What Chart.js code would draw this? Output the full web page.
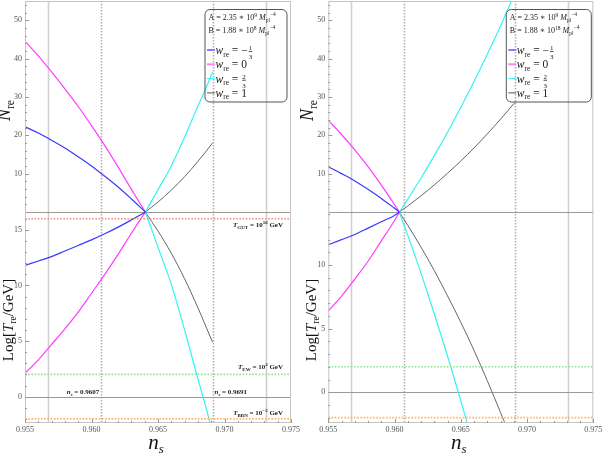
<!DOCTYPE html>
<html><head><meta charset="utf-8">
<script src="https://cdn.jsdelivr.net/npm/chart.js@4.4.0/dist/chart.umd.min.js"></script>
<style>
html,body{margin:0;padding:0;background:#fff;}
#wrap{position:relative;width:602px;height:453px;overflow:hidden;}
canvas{position:absolute;top:0;}
</style></head><body>
<div id="wrap">
<canvas id="cL" width="306" height="453" style="left:0"></canvas>
<canvas id="cR" width="302" height="453" style="left:300px"></canvas>
</div>
<script>
// ---------- DATA ----------
const xTickValues = [0.955, 0.960, 0.965, 0.970, 0.975];
const nsSolidLines = [0.9567, 0.9731];
const nsDottedLines = [0.9607, 0.9691];
const tempRefLines = [16, 2, -2];           // T_GUT, T_EW, T_BBN (log10 GeV)
const seriesLabels = ['w = -1/3', 'w = 0', 'w = 2/3', 'w = 1'];

// Left panel  (A = 2.35e9, B = 1.88e8)
const nsWarmL   = [0.955, 0.956, 0.957, 0.958, 0.959, 0.960, 0.961, 0.962, 0.963, 0.96405];
const nBlueL    = [22.2, 20.6, 18.7, 16.7, 14.4, 12.0, 9.3, 6.5, 3.4, 0];
const nMagL     = [44.5, 40.7, 36.5, 32.1, 27.5, 22.5, 17.3, 11.7, 5.9, 0];
const tBlueL    = [11.8, 12.2, 12.6, 13.1, 13.6, 14.1, 14.65, 15.25, 15.9, 16.6];
const tMagL     = [2.1, 3.3, 4.7, 6.1, 7.6, 9.3, 11.0, 12.8, 14.7, 16.6];
const nsStiffL  = [0.96405, 0.965, 0.966, 0.967, 0.968, 0.9685, 0.9691];
const nCyanL    = [0, 5.8, 12.0, 19.5, 27.6, 31.5, 36.4];
const tCyanL    = [16.6, 13.45, 10.1, 6.0, 1.6, -0.5, -3.2];
const nGrayL    = [0, 2.6, 5.7, 9.2, 13.2, 15.3, 18.0];
const tGrayL    = [16.6, 14.9, 12.9, 10.6, 8.0, 6.6, 4.9];

// Right panel (A = 2.35e9, B = 1.88e18)
const nsWarmR   = [0.955, 0.956, 0.957, 0.958, 0.959, 0.960, 0.96036];
const nBlueR    = [11.8, 10.0, 8.1, 5.9, 3.5, 1.0, 0];
const nMagR     = [23.9, 20.2, 16.2, 11.8, 7.0, 1.9, 0];
const tBlueR    = [11.6, 12.0, 12.4, 12.9, 13.4, 13.9, 14.15];
const tMagR     = [6.4, 7.55, 8.9, 10.3, 11.9, 13.5, 14.15];
const nsStiffR  = [0.96036, 0.961, 0.962, 0.963, 0.964, 0.965, 0.966, 0.967, 0.968, 0.969, 0.9691];
const nCyanR    = [0, 3.35, 8.85, 14.7, 20.8, 27.3, 34.0, 41.1, 48.5, 56.3, 57.0];
const tCyanR    = [14.15, 12.33, 9.34, 6.17, 2.85, -0.67, -4.31, -8.2, -12.2, -16.4, -16.8];
const nGrayR    = [0, 1.58, 4.22, 7.05, 10.1, 13.3, 16.7, 20.35, 24.2, 28.2, 28.6];
const tGrayR    = [14.15, 13.12, 11.4, 9.56, 7.57, 5.5, 3.28, 0.9, -1.6, -4.2, -4.5];

// ---------- STYLE ----------
const FONT = '"Liberation Serif","DejaVu Serif",serif';
const COL = {blue:'#3a3aff', mag:'#ff3cff', cyan:'#33f2f2', gray:'#666666'};
const REFCOL = ['#f08c8c', '#8de88d', '#ffb35c'];

function fontOf(p){ return (p.i?'italic ':'') + (p.b?'bold ':'') + p.s + 'px ' + FONT; }
function drawRich(ctx, parts, x, y, align){
  ctx.textAlign='left'; ctx.textBaseline='alphabetic';
  const widths = parts.map(p=>{
    ctx.font = fontOf(p);
    if (p.frac) return Math.max(ctx.measureText(p.frac[0]).width, ctx.measureText(p.frac[1]).width)+2;
    return ctx.measureText(p.t).width;
  });
  const w = widths.reduce((a,b)=>a+b,0);
  let cx = align==='right' ? x-w : align==='center' ? x-w/2 : x;
  parts.forEach((p,k)=>{
    ctx.font = fontOf(p);
    if (p.frac){
      const fw = widths[k];
      ctx.textAlign='center';
      ctx.fillText(p.frac[0], cx+fw/2, y - p.s*0.55);
      ctx.fillText(p.frac[1], cx+fw/2, y + p.s*0.75);
      ctx.fillRect(cx+1, y - p.s*0.4, fw-2, 0.8);
      ctx.textAlign='left';
    } else ctx.fillText(p.t, cx, y + (p.dy||0));
    cx += widths[k];
  });
}

function pts(xs, ys){ return xs.map((x,i)=>({x, y: ys[i]})); }

function curve(data, color, axis, w){
  return {data, yAxisID: axis, borderColor: color, borderWidth: w||1.2, pointRadius: 0,
          fill:false, cubicInterpolationMode:'monotone'};
}
function refLine(val, color){
  return {data:[{x:0.955,y:val},{x:0.975,y:val}], yAxisID:'yT', borderColor:color,
          borderWidth:1.6, borderDash:[1.6,1.6], pointRadius:0, fill:false};
}

function makePanel(id, d, cfg){
  const datasets = [];
  cfg.refs.forEach(k=>datasets.push(refLine(tempRefLines[k], REFCOL[k])));
  datasets.push(curve(pts(d.nsW, d.nB), COL.blue, 'yN'));
  datasets.push(curve(pts(d.nsW, d.nM), COL.mag, 'yN'));
  datasets.push(curve(pts(d.nsS, d.nC), COL.cyan, 'yN'));
  datasets.push(curve(pts(d.nsS, d.nG), COL.gray, 'yN', 1));
  datasets.push(curve(pts(d.nsW, d.tB), COL.blue, 'yT'));
  datasets.push(curve(pts(d.nsW, d.tM), COL.mag, 'yT'));
  datasets.push(curve(pts(d.nsS, d.tC), COL.cyan, 'yT'));
  datasets.push(curve(pts(d.nsS, d.tG), COL.gray, 'yT', 1));

  const tickFont = {family: FONT, size: 8};
  const yW = cfg.yWidth;
  const yFit = s => { s.width = yW; s.paddingTop = 0; s.paddingBottom = 0; };

  const deco = {
    id:'deco'+id,
    beforeDatasetsDraw(chart){
      const ctx = chart.ctx, ca = chart.chartArea, xs = chart.scales.x;
      const yN = chart.scales.yN, yT = chart.scales.yT;
      ctx.save();
      ctx.strokeStyle = '#d0d0d0'; ctx.lineWidth = 1.6;
      nsSolidLines.forEach(v=>{ const px = Math.round(xs.getPixelForValue(v))+0.5;
        ctx.beginPath(); ctx.moveTo(px, ca.top); ctx.lineTo(px, ca.bottom); ctx.stroke(); });
      ctx.strokeStyle = '#b0b0b0'; ctx.lineWidth = 1.6; ctx.setLineDash([1.5,1.5]);
      nsDottedLines.forEach(v=>{ const px = Math.round(xs.getPixelForValue(v))+0.5;
        ctx.beginPath(); ctx.moveTo(px, ca.top); ctx.lineTo(px, ca.bottom); ctx.stroke(); });
      ctx.setLineDash([]);
      ctx.strokeStyle = '#9a9a9a'; ctx.lineWidth = 1;
      [yN.getPixelForValue(0), yT.getPixelForValue(0)].forEach(py=>{
        const p = Math.round(py)+0.5;
        ctx.beginPath(); ctx.moveTo(ca.left, p); ctx.lineTo(ca.right, p); ctx.stroke(); });
      ctx.restore();
    },
    afterDraw(chart){
      const ctx = chart.ctx, ca = chart.chartArea, xs = chart.scales.x;
      const yN = chart.scales.yN, yT = chart.scales.yT;
      ctx.save();
      ctx.strokeStyle = '#c4c4c4'; ctx.lineWidth = 1;
      ctx.strokeRect(ca.left+0.5, ca.top+0.5, ca.right-ca.left-1, ca.bottom-ca.top-1);
      ctx.strokeStyle = '#999'; ctx.lineWidth = 1;
      const tick = (x1,y1,x2,y2)=>{ctx.beginPath();ctx.moveTo(x1,y1);ctx.lineTo(x2,y2);ctx.stroke();};
      for (let v=0.955; v<=0.9751; v+=0.001){
        const px = Math.round(xs.getPixelForValue(v))+0.5;
        const major = Math.abs(Math.round(v*200)-v*200) < 1e-6;
        tick(px, ca.bottom, px, ca.bottom-(major?4:2));
      }
      for (let v=2; v<55; v+=2){ const py=Math.round(yN.getPixelForValue(v))+0.5; tick(ca.left, py, ca.left+(v%10===0?4:2), py); }
      for (let v=-2; v<=Math.floor(yT.max); v+=1){ const py=Math.round(yT.getPixelForValue(v))+0.5; tick(ca.left, py, ca.left+(v%5===0?4:2), py); }

      // legend box
      const bx = ca.right - cfg.boxRight - cfg.boxW, by = ca.top + 8, bw = cfg.boxW, bh = 92.5;
      ctx.strokeStyle = '#555'; ctx.lineWidth = 1;
      ctx.beginPath(); ctx.roundRect(bx+0.5, by+0.5, bw, bh, 5); ctx.stroke();
      ctx.fillStyle = '#222';
      drawRich(ctx, [{t:'A = 2.35 \u2217 10',s:8},{t:'9',s:5.5,dy:-3.5},{t:' ',s:8},{t:'M',s:8,i:1},{t:'pl',s:5.5,dy:2},{t:'\u22124',s:5.5,dy:-4}], bx+4, by+11);
      drawRich(ctx, [{t:'B = 1.88 \u2217 10',s:8},{t:cfg.bExp,s:5.5,dy:-3.5},{t:' ',s:8},{t:'M',s:8,i:1},{t:'pl',s:5.5,dy:2},{t:'\u22124',s:5.5,dy:-4}], bx+4, by+24);
      const entries = [
        {c:'#7f7fff', w:2, parts:[{t:'\u2212',s:11.5},{frac:['1','3'],s:7}]},
        {c:'#ff80ff', w:2, parts:[{t:'0',s:11.5}]},
        {c:COL.cyan, w:1, parts:[{frac:['2','3'],s:7}]},
        {c:'#555', w:1, parts:[{t:'1',s:11.5}]}
      ];
      entries.forEach((e,k)=>{
        const cy = by + 41 + k*14.3;
        ctx.strokeStyle = e.c; ctx.lineWidth = e.w;
        ctx.beginPath(); ctx.moveTo(bx+2.5, cy); ctx.lineTo(bx+10.5, cy); ctx.stroke();
        ctx.fillStyle = '#222';
        drawRich(ctx, [{t:'w',s:11.5,i:1},{t:'re',s:7.5,dy:2.5},{t:' = ',s:11.5}].concat(e.parts), bx+11, cy+4);
      });

      // annotations
      if (cfg.annot){
        ctx.fillStyle = '#222';
        const rx = ca.right - 8;
        const fs = 7, ss = 5;
        drawRich(ctx, [{t:'T',s:fs,i:1,b:1},{t:'GUT',s:ss,dy:2,b:1},{t:' = 10',s:fs,b:1},{t:'16',s:ss,dy:-3,b:1},{t:' GeV',s:fs,b:1}], rx, yT.getPixelForValue(16)+8.5, 'right');
        drawRich(ctx, [{t:'T',s:fs,i:1,b:1},{t:'EW',s:ss,dy:2,b:1},{t:' = 10',s:fs,b:1},{t:'2',s:ss,dy:-3,b:1},{t:' GeV',s:fs,b:1}], rx, yT.getPixelForValue(2)-5, 'right');
        drawRich(ctx, [{t:'T',s:fs,i:1,b:1},{t:'BBN',s:ss,dy:2,b:1},{t:' = 10',s:fs,b:1},{t:'\u22122',s:ss,dy:-3,b:1},{t:' GeV',s:fs,b:1}], rx, yT.getPixelForValue(-2)-4, 'right');
        drawRich(ctx, [{t:'n',s:fs,i:1,b:1},{t:'s',s:ss,i:1,dy:2,b:1},{t:' = 0.9607',s:fs,b:1}], xs.getPixelForValue(nsDottedLines[0])-1.5, yT.getPixelForValue(0)-3, 'right');
        drawRich(ctx, [{t:'n',s:fs,i:1,b:1},{t:'s',s:ss,i:1,dy:2,b:1},{t:' = 0.9691',s:fs,b:1}], xs.getPixelForValue(nsDottedLines[1])+2, yT.getPixelForValue(0)-3, 'left');
      }

      // axis titles
      ctx.fillStyle = '#111';
      ctx.save(); ctx.translate(ca.left - 15, (yN.top+yN.bottom)/2 + 4); ctx.rotate(-Math.PI/2);
      drawRich(ctx, [{t:'N',s:18,i:1},{t:'re',s:11.5,dy:3.5}], 0, 0, 'center'); ctx.restore();
      ctx.save(); ctx.translate(ca.left - 12, (yT.top+yT.bottom)/2 + 2.5); ctx.rotate(-Math.PI/2);
      drawRich(ctx, [{t:'Log[',s:15},{t:'T',s:15,i:1},{t:'re',s:9.5,dy:3},{t:'/GeV]',s:15}], 0, 0, 'center'); ctx.restore();
      drawRich(ctx, [{t:'n',s:21,i:1},{t:'s',s:13,i:1,dy:4}], (ca.left+ca.right)/2 - 2, 449, 'center');
      ctx.restore();
    }
  };

  return new Chart(document.getElementById(id), {
    type:'line',
    data:{datasets},
    plugins:[deco],
    options:{
      responsive:false, animation:false, normalized:true,
      layout:{padding:{left:0, right:cfg.padR, top:1, bottom:0}},
      plugins:{legend:{display:false}, tooltip:{enabled:false}},
      scales:{
        x:{type:'linear', min:0.955, max:0.975,
           afterFit(s){ s.height = 30; s.paddingLeft = 0; s.paddingRight = 0; },
           afterBuildTicks(s){ s.ticks = xTickValues.map(v=>({value:v})); },
           ticks:{callback:v=>Number(v).toFixed(3), font:tickFont, color:'#555', padding:2, maxRotation:0, autoSkip:false},
           grid:{display:false, drawTicks:false, tickLength:0}, border:{display:false}},
        yT:{type:'linear', position:'left', stack:'v', stackWeight:1, min:cfg.tMin, max:cfg.tMax,
            afterFit: yFit,
            ticks:{stepSize:5, includeBounds:false, font:tickFont, color:'#555', padding:3},
            grid:{display:false, drawTicks:false, tickLength:0}, border:{display:false}},
        yN:{type:'linear', position:'left', stack:'v', stackWeight:1, min:0, max:55,
            afterFit: yFit,
            ticks:{stepSize:10, includeBounds:false, callback:v=> v===0 ? '' : v, font:tickFont, color:'#555', padding:3},
            grid:{display:false, drawTicks:false, tickLength:0}, border:{display:false}}
      }
    }
  });
}

makePanel('cL', {nsW:nsWarmL, nB:nBlueL, nM:nMagL, tB:tBlueL, tM:tMagL, nsS:nsStiffL, nC:nCyanL, tC:tCyanL, nG:nGrayL, tG:tGrayL},
  {refs:[0,1,2], tMin:-2.37, tMax:16.61, yWidth:25, padR:15, boxW:82, boxRight:4.5, bExp:'8', annot:true});
makePanel('cR', {nsW:nsWarmR, nB:nBlueR, nM:nMagR, tB:tBlueR, tM:tMagR, nsS:nsStiffR, nC:nCyanR, tC:tCyanR, nG:nGrayR, tG:tGrayR},
  {refs:[1,2], tMin:-2.42, tMax:14.17, yWidth:28.3, padR:8.7, boxW:85, boxRight:2.5, bExp:'18', annot:false});
</script>
</body></html>
